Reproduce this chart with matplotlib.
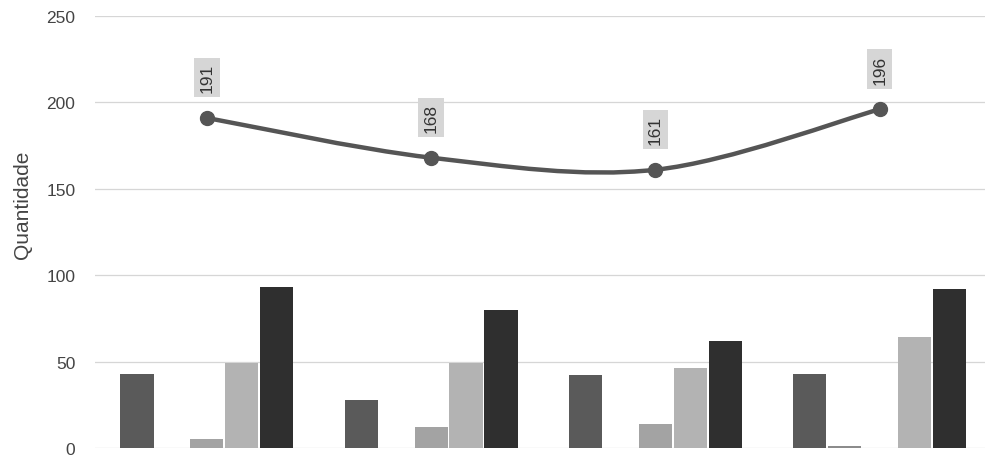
import matplotlib
matplotlib.use("Agg")
import matplotlib.pyplot as plt
import numpy as np
from matplotlib.path import Path
from matplotlib.patches import PathPatch

plt.rcParams['font.family'] = ['Liberation Sans', 'DejaVu Sans']

# Data (category labels are cut off in the reference)
groups = [0, 1, 2, 3]
serie_a = [43, 28, 42, 43]
serie_b = [0, 0, 0, 1]
serie_c = [5, 12, 14, 0]
serie_d = [49, 49, 46, 64]
serie_e = [93, 80, 62, 92]
totals = [191, 168, 161, 196]

series = [serie_a, serie_b, serie_c, serie_d, serie_e]
colors = ["#5a5a5a", "#8c8c8c", "#a3a3a3", "#b3b3b3", "#2f2f2f"]

fig = plt.figure(figsize=(9.87, 4.56), dpi=100)
ax = fig.add_axes([0.096, 0.0155, 0.902, 0.9472])

# Grouped bars, five slots per group
slot = 0.156
x = np.array(groups, dtype=float)
for i, (vals, col) in enumerate(zip(series, colors)):
    ax.bar(x + (i - 2) * slot, vals, width=slot * 0.95, color=col, zorder=2)

# Smooth line (Catmull-Rom through the totals) drawn as a bezier path
pts = list(zip(x, totals))
verts = [pts[0]]
codes = [Path.MOVETO]
for k in range(len(pts) - 1):
    p0 = pts[k - 1] if k > 0 else pts[k]
    p1 = pts[k]
    p2 = pts[k + 1]
    p3 = pts[k + 2] if k + 2 < len(pts) else pts[k + 1]
    c1 = (p1[0] + (p2[0] - p0[0]) / 6, p1[1] + (p2[1] - p0[1]) / 6)
    c2 = (p2[0] - (p3[0] - p1[0]) / 6, p2[1] - (p3[1] - p1[1]) / 6)
    verts += [c1, c2, p2]
    codes += [Path.CURVE4] * 3
ax.add_patch(PathPatch(Path(verts, codes), facecolor="none", edgecolor="#555555",
                       lw=3.2, zorder=3))
ax.plot(x, totals, "o", color="#555555", markersize=10, zorder=4)

# Rotated value labels above the points
for xi, t in zip(x, totals):
    ax.annotate(str(t), (xi, t), xytext=(0, 29), textcoords="offset points",
                rotation=90, ha="center", va="center", fontsize=12.5, color="#333333",
                bbox=dict(boxstyle="square,pad=0.3", fc="#d6d6d6", ec="none"), zorder=5)

# Axes styling
ax.set_xlim(-0.5, 3.47)
ax.set_ylim(0, 250)
ax.set_yticks([0, 50, 100, 150, 200, 250])
ax.set_xticks([])
ax.tick_params(axis="y", length=0, pad=14, labelsize=12.5, labelcolor="#444444")
ax.yaxis.grid(True, color="#d6d6d6", lw=0.9, zorder=0)
ax.set_axisbelow(True)
for s in ax.spines.values():
    s.set_visible(False)
ax.set_ylabel("Quantidade", fontsize=15, color="#444444")
ax.yaxis.set_label_coords(-0.07, 0.565)

fig.savefig("out.png", dpi=100)
